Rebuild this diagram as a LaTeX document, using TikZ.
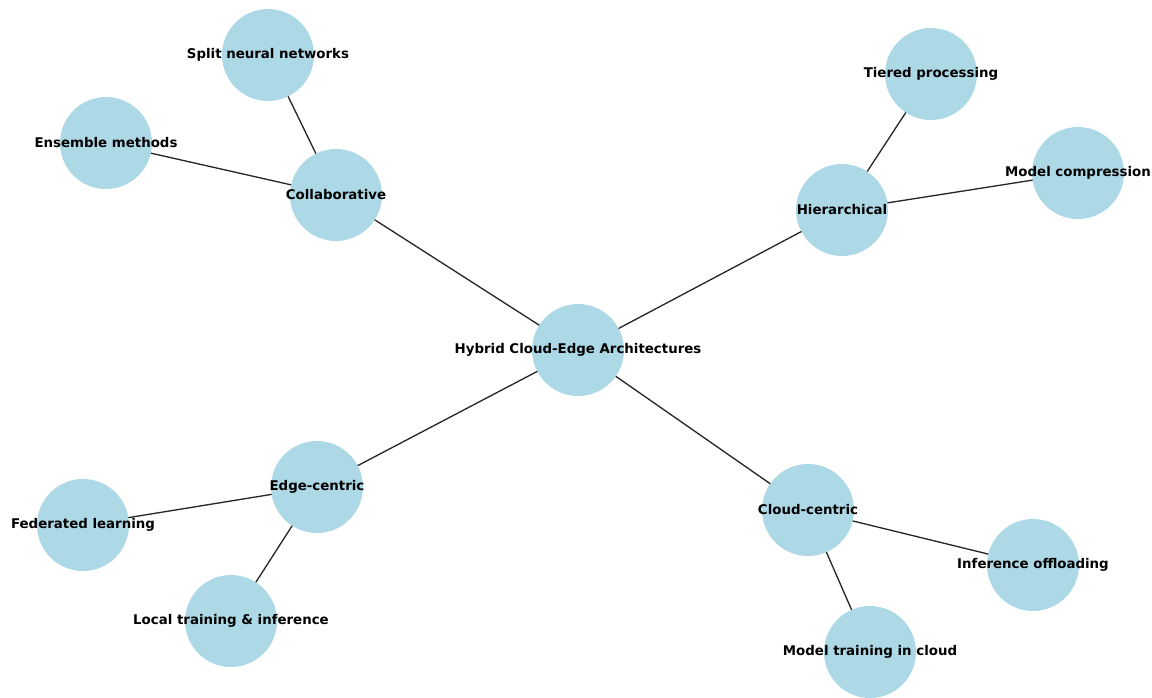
\documentclass[tikz,border=0pt]{standalone}
\usepackage{fontspec}
\setmainfont{DejaVu Sans}
\definecolor{nodeblue}{RGB}{173,216,230}
\begin{document}
\begin{tikzpicture}[x=0.02cm,y=-0.02cm,font=\bfseries\fontsize{7.6}{9}\selectfont,line join=round,line cap=round,
	topic/.style={circle,fill=nodeblue,minimum size=1.84cm,inner sep=0pt},
	link/.style={draw=black!85,line width=0.75pt}]
			\useasboundingbox (0,0) rectangle (1152,697);
			\node[topic,label=center:Hybrid Cloud-Edge Architectures] (hyb) at (578,350) {};
			\node[topic,label=center:Collaborative] (col) at (336,195) {};
			\node[topic,label=center:Split neural networks] (spl) at (268,55) {};
			\node[topic,label=center:Ensemble methods] (ens) at (106,143) {};
			\node[topic,label=center:Hierarchical] (hie) at (842,210) {};
			\node[topic,label=center:Tiered processing] (tie) at (931,74) {};
			\node[topic,label=center:Model compression] (com) at (1078,173) {};
			\node[topic,label=center:Edge-centric] (edg) at (317,487) {};
			\node[topic,label=center:Federated learning] (fed) at (83,525) {};
			\node[topic,label=center:Local training \& inference] (loc) at (231,621) {};
			\node[topic,label=center:Cloud-centric] (clo) at (808,510) {};
			\node[topic,label=center:Inference offloading] (off) at (1033,565) {};
			\node[topic,label=center:Model training in cloud] (tra) at (870,652) {};
			\draw[link] (hyb)--(col) (col)--(spl) (col)--(ens)
			(hyb)--(hie) (hie)--(tie) (hie)--(com)
			(hyb)--(edg) (edg)--(fed) (edg)--(loc)
			(hyb)--(clo) (clo)--(off) (clo)--(tra);
			\end{tikzpicture}
\end{document}
